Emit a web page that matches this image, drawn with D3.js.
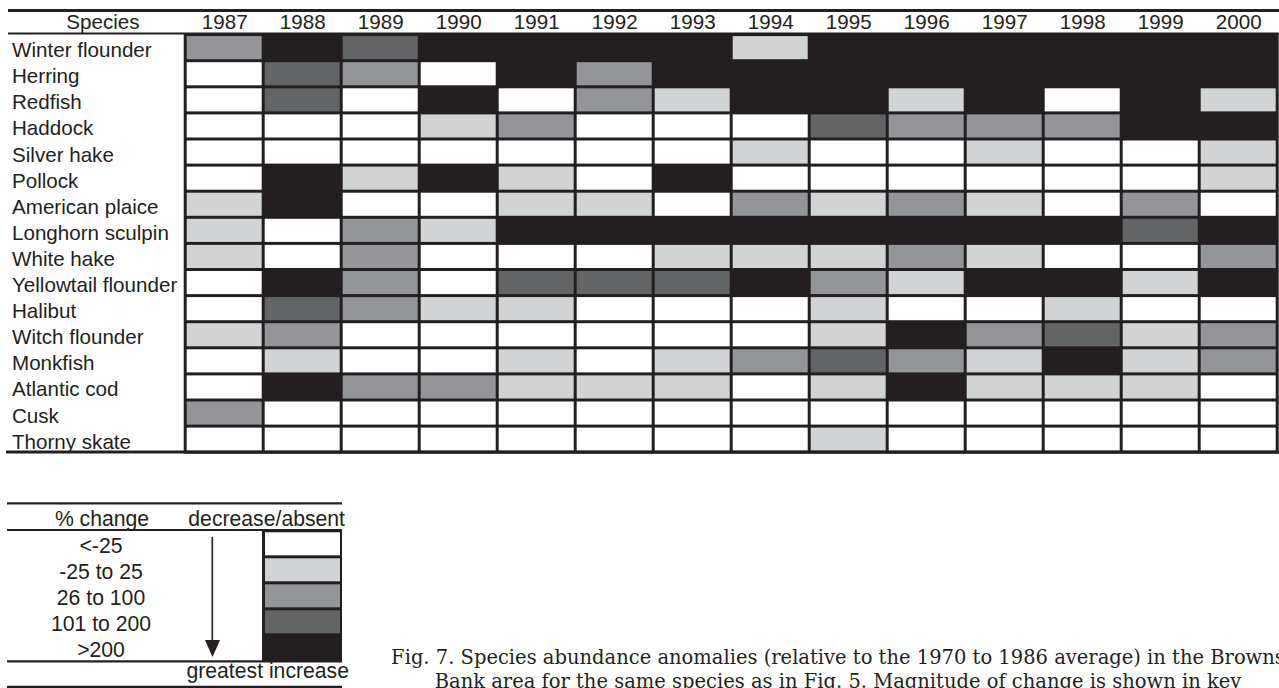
<!DOCTYPE html>
<html>
<head>
<meta charset="utf-8">
<script src="https://cdn.jsdelivr.net/npm/d3@7"></script>
<style>
  body { margin: 0; background: #fff; }
  svg { display: block; }
  .lbl { font-family: "Liberation Sans", Arial, sans-serif; fill: #231f20; }
  .cap { font-family: "DejaVu Serif", serif; fill: #231f20; }
</style>
</head>
<body>
<div id="chart"></div>
<script>
// data
const years = [1987, 1988, 1989, 1990, 1991, 1992, 1993, 1994, 1995, 1996, 1997, 1998, 1999, 2000]
const species = ['Winter flounder', 'Herring', 'Redfish', 'Haddock', 'Silver hake', 'Pollock',
    'American plaice', 'Longhorn sculpin', 'White hake', 'Yellowtail flounder', 'Halibut',
    'Witch flounder', 'Monkfish', 'Atlantic cod', 'Cusk', 'Thorny skate']
// class per year: 0 = <-25, 1 = -25 to 25, 2 = 26 to 100, 3 = 101 to 200, 4 = >200
const winterFlounder = [2, 4, 3, 4, 4, 4, 4, 1, 4, 4, 4, 4, 4, 4]
const herring = [0, 3, 2, 0, 4, 2, 4, 4, 4, 4, 4, 4, 4, 4]
const redfish = [0, 3, 0, 4, 0, 2, 1, 4, 4, 1, 4, 0, 4, 1]
const haddock = [0, 0, 0, 1, 2, 0, 0, 0, 3, 2, 2, 2, 4, 4]
const silverHake = [0, 0, 0, 0, 0, 0, 0, 1, 0, 0, 1, 0, 0, 1]
const pollock = [0, 4, 1, 4, 1, 0, 4, 0, 0, 0, 0, 0, 0, 1]
const americanPlaice = [1, 4, 0, 0, 1, 1, 0, 2, 1, 2, 1, 0, 2, 0]
const longhornSculpin = [1, 0, 2, 1, 4, 4, 4, 4, 4, 4, 4, 4, 3, 4]
const whiteHake = [1, 0, 2, 0, 0, 0, 1, 1, 1, 2, 1, 0, 0, 2]
const yellowtailFlounder = [0, 4, 2, 0, 3, 3, 3, 4, 2, 1, 4, 4, 1, 4]
const halibut = [0, 3, 2, 1, 1, 0, 0, 0, 1, 0, 0, 1, 0, 0]
const witchFlounder = [1, 2, 0, 0, 0, 0, 0, 0, 1, 4, 2, 3, 1, 2]
const monkfish = [0, 1, 0, 0, 1, 0, 1, 2, 3, 2, 1, 4, 1, 2]
const atlanticCod = [0, 4, 2, 2, 1, 1, 1, 0, 1, 4, 1, 1, 1, 0]
const cusk = [2, 0, 0, 0, 0, 0, 0, 0, 0, 0, 0, 0, 0, 0]
const thornySkate = [0, 0, 0, 0, 0, 0, 0, 0, 1, 0, 0, 0, 0, 0]
const classes = [winterFlounder, herring, redfish, haddock, silverHake, pollock, americanPlaice,
    longhornSculpin, whiteHake, yellowtailFlounder, halibut, witchFlounder, monkfish,
    atlanticCod, cusk, thornySkate]
const legendLabels = ['<-25', '-25 to 25', '26 to 100', '101 to 200', '>200']
const caption = ['Fig. 7. Species abundance anomalies (relative to the 1970 to 1986 average) in the Browns',
    'Bank area for the same species as in Fig. 5. Magnitude of change is shown in key']

const ink = '#231f20'
const shades = ['#ffffff', '#d1d3d4', '#939598', '#636466', ink]

const W = 1279, H = 688
const svg = d3.select('#chart').append('svg')
    .attr('width', W)
    .attr('height', H)

// grid scales
const gx0 = 183.7, gy0 = 33.1, gap = 3
const x = d3.scaleBand().domain(years).range([gx0, gx0 + years.length * 78])
const y = d3.scaleBand().domain(species).range([gy0, gy0 + species.length * 26.1])
const color = d3.scaleOrdinal().domain(d3.range(5)).range(shades)

const cells = species.flatMap((s, i) => years.map((yr, j) => ({species: s, year: yr, v: classes[i][j]})))

// black background makes the grid lines
svg.append('rect')
    .attr('x', gx0)
    .attr('y', gy0)
    .attr('width', x.range()[1] - gx0 + gap)
    .attr('height', y.range()[1] - gy0 + gap)
    .attr('fill', ink)

svg.append('g')
  .selectAll('.cell')
  .data(cells)
  .join('rect')
    .attr('class', 'cell')
    .attr('x', d => x(d.year) + gap)
    .attr('y', d => y(d.species) + gap)
    .attr('width', x.bandwidth() - gap)
    .attr('height', y.bandwidth() - gap)
    .attr('fill', d => color(d.v))

// rules
svg.append('line').attr('x1', 8).attr('x2', W).attr('y1', 10.5).attr('y2', 10.5)
    .attr('stroke', ink).attr('stroke-width', 3)
svg.append('line').attr('x1', 8).attr('x2', W).attr('y1', 33.6).attr('y2', 33.6)
    .attr('stroke', ink).attr('stroke-width', 2)
svg.append('line').attr('x1', 6).attr('x2', W).attr('y1', 452).attr('y2', 452)
    .attr('stroke', ink).attr('stroke-width', 3)

// header
svg.append('text').attr('class', 'lbl')
    .attr('x', 103).attr('y', 29.3)
    .attr('text-anchor', 'middle')
    .style('font-size', '20.6px')
    .text('Species')

svg.append('g')
  .selectAll('text')
  .data(years)
  .join('text')
    .attr('class', 'lbl')
    .attr('x', d => x(d) + x.bandwidth() / 2 + 2)
    .attr('y', 29.3)
    .attr('text-anchor', 'middle')
    .style('font-size', '20.6px')
    .text(d => d)

// row labels
svg.append('g')
  .selectAll('text')
  .data(species)
  .join('text')
    .attr('class', 'lbl')
    .attr('x', 12)
    .attr('y', d => y(d) + gap + y.bandwidth() / 2 + 8)
    .style('font-size', '20.6px')
    .text(d => d)

// legend
const lx0 = 7, lx1 = 342
const ly = d3.scaleBand().domain(legendLabels).range([530, 530 + 5 * 26])
const legend = svg.append('g')

;[503.3, 530, 661.3, 686.8].forEach(v => {
    legend.append('line').attr('x1', lx0).attr('x2', lx1).attr('y1', v).attr('y2', v)
        .attr('stroke', ink).attr('stroke-width', 2.2)
})

legend.append('rect')
    .attr('x', 262).attr('y', 530)
    .attr('width', 80).attr('height', 131.3)
    .attr('fill', ink)

legend.selectAll('.lbox')
  .data(legendLabels)
  .join('rect')
    .attr('class', 'lbox')
    .attr('x', 265)
    .attr('y', d => ly(d) + 2.3)
    .attr('width', 75)
    .attr('height', 23)
    .attr('fill', (d, i) => shades[i])

legend.selectAll('.ltxt')
  .data(legendLabels)
  .join('text')
    .attr('class', 'lbl ltxt')
    .attr('x', 101)
    .attr('y', d => ly(d) + 22.5)
    .attr('text-anchor', 'middle')
    .style('font-size', '21.2px')
    .text(d => d)

legend.append('text').attr('class', 'lbl')
    .attr('x', 102).attr('y', 526)
    .attr('text-anchor', 'middle')
    .style('font-size', '21.2px')
    .text('% change')

legend.append('text').attr('class', 'lbl')
    .attr('x', 345).attr('y', 526)
    .attr('text-anchor', 'end')
    .style('font-size', '21.2px')
    .text('decrease/absent')

legend.append('text').attr('class', 'lbl')
    .attr('x', 349).attr('y', 678)
    .attr('text-anchor', 'end')
    .style('font-size', '21.2px')
    .text('greatest increase')

// arrow
legend.append('line')
    .attr('x1', 212.3).attr('x2', 212.3)
    .attr('y1', 537).attr('y2', 642)
    .attr('stroke', ink).attr('stroke-width', 1.6)
legend.append('path')
    .attr('d', 'M205,640 L220,640 L212.5,657 Z')
    .attr('fill', ink)

// caption
svg.append('g')
  .selectAll('text')
  .data(caption)
  .join('text')
    .attr('class', 'cap')
    .attr('x', 838)
    .attr('y', (d, i) => 664 + i * 24)
    .attr('text-anchor', 'middle')
    .style('font-size', '19.5px')
    .text(d => d)
</script>
</body>
</html>
